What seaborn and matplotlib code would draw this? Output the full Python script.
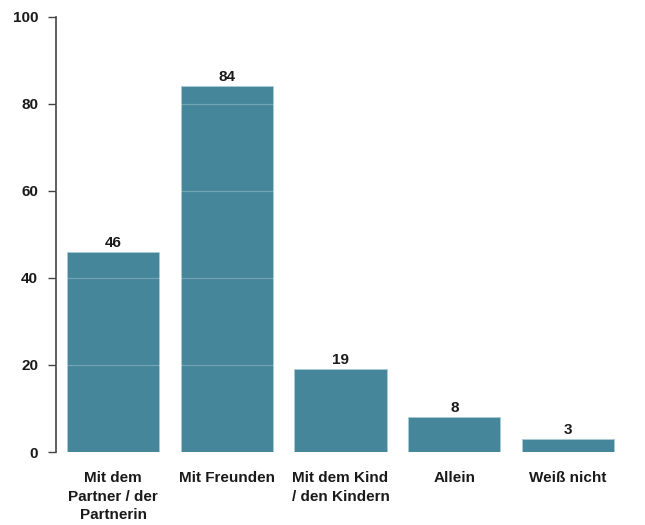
import matplotlib
matplotlib.use("Agg")
import matplotlib.pyplot as plt
import seaborn as sns
import pandas as pd

categories = ["Mit dem\nPartner / der\nPartnerin", "Mit Freunden", "Mit dem Kind\n/ den Kindern", "Allein", "Weiß nicht"]
values = [46, 84, 19, 8, 3]
yticks = [0, 20, 40, 60, 80, 100]

sns.set_theme(style="white")
plt.rcParams['font.family'] = ['Liberation Sans', 'DejaVu Sans']

df = pd.DataFrame({"cat": categories, "val": values})

fig = plt.figure(figsize=(6.45, 5.25), dpi=100)
ax = fig.add_axes([0.087, 0.139, 0.882, 0.829])
sns.barplot(data=df, x="cat", y="val", color="#45869a", saturation=1, width=0.81,
            edgecolor="#a8cbd6", linewidth=0.6, ax=ax)

FS = 11
ax.set_ylim(0, 100)
ax.set_xlim(-0.5, 4.5)
ax.set_yticks(yticks)
ax.set_yticklabels([str(t) for t in yticks], fontsize=FS, fontweight="bold", color="#1a1a1a")
for t in yticks[1:-1]:
    ax.axhline(t, color="white", alpha=0.25, linewidth=0.9, zorder=5)

ax.set_xlabel("")
ax.set_ylabel("")
ax.tick_params(axis="x", length=0, pad=14)
ax.tick_params(axis="y", length=6, width=1, color="#444444", pad=7, left=True)
for lbl in ax.get_xticklabels():
    lbl.set_fontsize(FS)
    lbl.set_fontweight("bold")
    lbl.set_color("#1a1a1a")
    lbl.set_verticalalignment("top")
    lbl.set_linespacing(1.38)

for s in ["top", "right", "bottom"]:
    ax.spines[s].set_visible(False)
ax.spines["left"].set_color("#444444")
ax.spines["left"].set_linewidth(1.2)

for i, v in enumerate(values):
    ax.text(i, v + 0.5, str(v), ha="center", va="bottom", fontsize=FS, fontweight="bold", color="#1a1a1a")

fig.savefig("out.png", dpi=100)
